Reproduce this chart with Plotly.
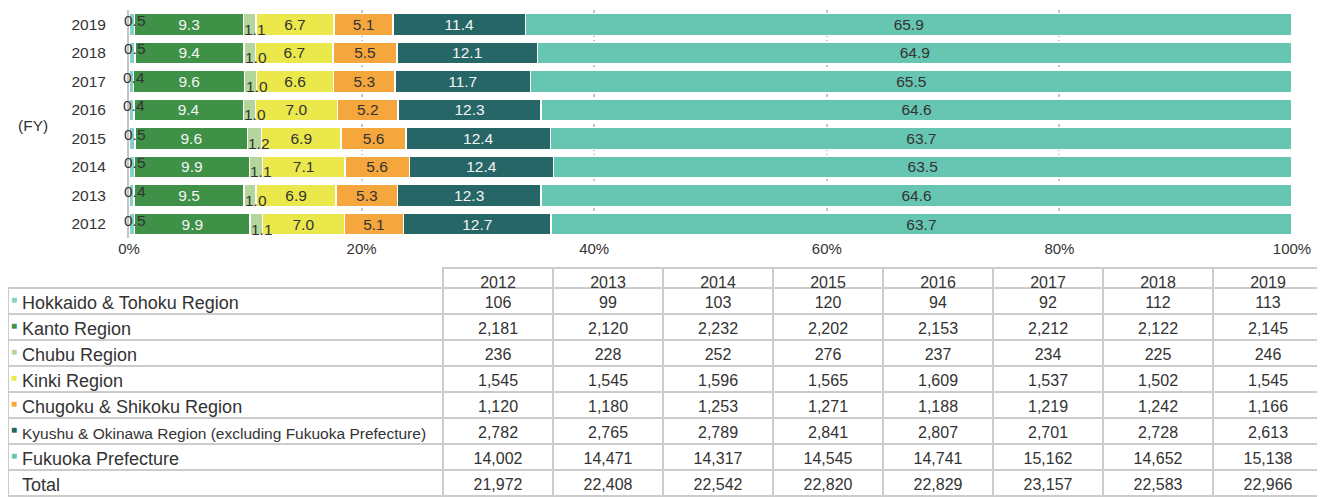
import plotly.graph_objects as go

# ---------------- data ----------------
years = ["2012", "2013", "2014", "2015", "2016", "2017", "2018", "2019"]

region_names = [
    "Hokkaido & Tohoku Region",
    "Kanto Region",
    "Chubu Region",
    "Kinki Region",
    "Chugoku & Shikoku Region",
    "Kyushu & Okinawa Region (excluding Fukuoka Prefecture)",
    "Fukuoka Prefecture",
]
total_label = "Total"

hokkaido = [106, 99, 103, 120, 94, 92, 112, 113]
kanto = [2181, 2120, 2232, 2202, 2153, 2212, 2122, 2145]
chubu = [236, 228, 252, 276, 237, 234, 225, 246]
kinki = [1545, 1545, 1596, 1565, 1609, 1537, 1502, 1545]
chugoku = [1120, 1180, 1253, 1271, 1188, 1219, 1242, 1166]
kyushu = [2782, 2765, 2789, 2841, 2807, 2701, 2728, 2613]
fukuoka = [14002, 14471, 14317, 14545, 14741, 15162, 14652, 15138]
total = [21972, 22408, 22542, 22820, 22829, 23157, 22583, 22966]

# percentage labels shown on the bars (as printed)
pct_hokkaido = [0.5, 0.4, 0.5, 0.5, 0.4, 0.4, 0.5, 0.5]
pct_kanto = [9.9, 9.5, 9.9, 9.6, 9.4, 9.6, 9.4, 9.3]
pct_chubu = [1.1, 1.0, 1.1, 1.2, 1.0, 1.0, 1.0, 1.1]
pct_kinki = [7.0, 6.9, 7.1, 6.9, 7.0, 6.6, 6.7, 6.7]
pct_chugoku = [5.1, 5.3, 5.6, 5.6, 5.2, 5.3, 5.5, 5.1]
pct_kyushu = [12.7, 12.3, 12.4, 12.4, 12.3, 11.7, 12.1, 11.4]
pct_fukuoka = [63.7, 64.6, 63.5, 63.7, 64.6, 65.5, 64.9, 65.9]

x_tickvals = [0, 20, 40, 60, 80, 100]
x_ticktext = ["0%", "20%", "40%", "60%", "80%", "100%"]

# ---------------- styles ----------------
colors = ["#88d1c7", "#3e9147", "#b4d69c", "#ebe84b", "#f5a63c", "#266666", "#67c6b1"]
label_colors = ["#333333", "#f4f4f4", "#333333", "#333333", "#333333", "#f4f4f4", "#333333"]
FONT = "Liberation Sans, Arial, sans-serif"
TXT = "#333333"
GRID = "#cccccc"

# the page body adds an 8px margin; lay out in window pixels and convert
OX, OY = 8, 8
WIN_W, WIN_H = 1325, 497
W, H = WIN_W - OX, WIN_H - OY
MT = 2
PH = H - MT


def px_x(x):
    return min(1.0, max(0.0, (x - OX) / W))


def px_y(y):
    return min(1.0, max(0.0, (WIN_H - y) / PH))


series = [hokkaido, kanto, chubu, kinki, chugoku, kyushu, fukuoka]
pcts = [pct_hokkaido, pct_kanto, pct_chubu, pct_kinki, pct_chugoku, pct_kyushu, pct_fukuoka]

fig = go.Figure()
for i, (name, vals, pc) in enumerate(zip(region_names, series, pcts)):
    show_inside = i not in (0, 2)
    fig.add_trace(go.Bar(
        y=years, x=vals, name=name, orientation="h",
        marker=dict(color=colors[i], line=dict(color="#ffffff", width=1.5)),
        text=[f"{v:.1f}" for v in pc] if show_inside else None,
        textposition="inside" if show_inside else "none",
        insidetextanchor="middle",
        constraintext="none",
        textfont=dict(family=FONT, size=15.5, color=label_colors[i]),
        hoverinfo="skip", showlegend=False,
        xaxis="x", yaxis="y",
    ))

annotations = []
# small-segment labels (Hokkaido & Tohoku, Chubu) placed beside their thin segments
for j, yr in enumerate(years):
    comp = [s[j] for s in series]
    tot = sum(comp)
    h_center = comp[0] / tot * 100 / 2
    c_start = (comp[0] + comp[1]) / tot * 100
    annotations.append(dict(
        x=h_center, y=j, xref="x", yref="y", text=f"{pct_hokkaido[j]:.1f}",
        showarrow=False, xanchor="center", yanchor="middle", xshift=3, yshift=4,
        font=dict(family=FONT, size=15.5, color=TXT)))
    annotations.append(dict(
        x=c_start, y=j, xref="x", yref="y", text=f"{pct_chubu[j]:.1f}",
        showarrow=False, xanchor="left", yanchor="middle", xshift=-1, yshift=-5,
        font=dict(family=FONT, size=15.5, color=TXT)))

annotations.append(dict(
    x=px_x(33), y=px_y(125), xref="paper", yref="paper", text="(FY)",
    showarrow=False, xanchor="center", yanchor="middle",
    font=dict(family=FONT, size=15.5, color=TXT)))

# ---------------- table ----------------
def fmt(v):
    return f"{v:,}"

row_labels = region_names + [total_label]
n_rows = len(row_labels)

value_cols = []
for j in range(len(years)):
    value_cols.append([fmt(s[j]) for s in series] + [fmt(total[j])])

HEADER_H = 20
ROW_H = 26
table_top = 268
fig.add_trace(go.Table(
    domain=dict(x=[0, px_x(1323)], y=[0, px_y(table_top)]),
    columnwidth=[435] + [110] * len(years),
    header=dict(
        values=[""] + years,
        height=HEADER_H,
        align="center",
        fill=dict(color=["rgba(0,0,0,0)"] + ["#ffffff"] * len(years)),
        line=dict(color=["rgba(0,0,0,0)"] + [GRID] * len(years), width=2),
        font=dict(family=FONT, size=16, color=TXT),
    ),
    cells=dict(
        values=[[""] * n_rows] + value_cols,
        height=ROW_H,
        align="center",
        fill=dict(color="#ffffff"),
        line=dict(color=GRID, width=2),
        font=dict(family=FONT, size=16, color=TXT),
    ),
))

# row labels + legend keys of the table, on a hidden row-index axis
rows_top = table_top + HEADER_H
for i, lab in enumerate(row_labels):
    size = 15.5 if len(lab) > 40 else 18
    annotations.append(dict(
        x=px_x(20), y=i, xref="paper", yref="y2", text=lab, showarrow=False,
        xanchor="left", yanchor="middle", yshift=-2,
        font=dict(family=FONT, size=size, color=TXT)))
    if i < len(colors):
        annotations.append(dict(
            x=px_x(9), y=i, xref="paper", yref="y2", text="■", showarrow=False,
            xanchor="left", yanchor="middle", yshift=2,
            font=dict(family=FONT, size=10, color=colors[i])))

fig.update_layout(
    width=W, height=H,
    margin=dict(l=0, r=0, t=MT, b=0, autoexpand=False),
    paper_bgcolor="#ffffff", plot_bgcolor="#ffffff",
    barmode="stack", barnorm="percent", bargap=0.23,
    font=dict(family=FONT, size=15, color=TXT),
    xaxis=dict(
        domain=[px_x(129), px_x(1292)], range=[0, 100],
        tickvals=x_tickvals, ticktext=x_ticktext,
        showgrid=True, gridcolor="#c4c4c4", griddash="dot", gridwidth=1.5,
        zeroline=False, showline=False, ticks="",
        tickfont=dict(family=FONT, size=15, color=TXT),
        fixedrange=True, automargin=False,
    ),
    yaxis=dict(
        domain=[px_y(238.3), px_y(10)],
        type="category", categoryorder="array", categoryarray=years,
        range=[-0.5, len(years) - 0.5],
        showgrid=False, zeroline=False,
        showline=True, linecolor="#c4c4c4", linewidth=2,
        ticks="", ticklabelstandoff=18,
        tickfont=dict(family=FONT, size=15.5, color=TXT),
        fixedrange=True, automargin=False,
    ),
    yaxis2=dict(
        domain=[px_y(rows_top + n_rows * ROW_H), px_y(rows_top)],
        range=[n_rows - 0.5, -0.5], visible=False, anchor="free", position=0,
        fixedrange=True, automargin=False,
    ),
    annotations=annotations,
)

fig.write_html("out.html")
